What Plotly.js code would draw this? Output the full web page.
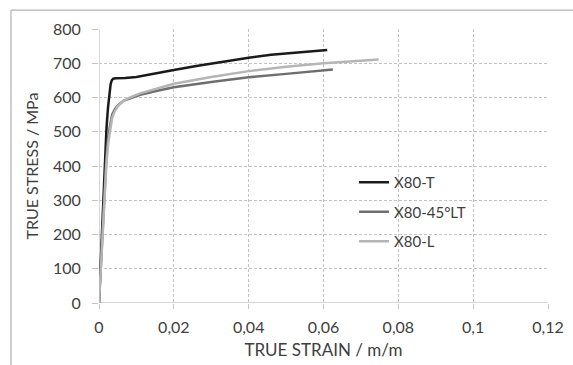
<!DOCTYPE html>
<html>
<head>
<meta charset="utf-8">
<script src="https://cdn.plot.ly/plotly-3.0.1.min.js"></script>
<style>
html,body{margin:0;padding:0;background:#fff;}
#chart{width:573px;height:365px;}
</style>
</head>
<body>
<div id="chart"></div>
<script>
// X80-T
const strainT = [0, 0.0004, 0.0008, 0.0012, 0.0016, 0.002, 0.0024, 0.0028, 0.0031, 0.0034, 0.0038, 0.0045, 0.0055, 0.007, 0.01, 0.0128, 0.016, 0.02, 0.026, 0.031, 0.04, 0.046, 0.052, 0.057, 0.061];
const stressT = [0, 100, 220, 330, 430, 510, 570, 615, 638, 650, 655, 656, 656, 657, 660, 666, 672, 680, 692, 701, 716, 725, 731, 735, 739];
// X80-45°LT
const strainLT = [0, 0.0005, 0.001, 0.0015, 0.002, 0.0025, 0.003, 0.0035, 0.0042, 0.005, 0.0065, 0.0083, 0.011, 0.015, 0.02, 0.03, 0.04, 0.05, 0.06, 0.0625];
const stressLT = [0, 110, 230, 340, 430, 490, 525, 550, 565, 576, 590, 598, 608, 618, 630, 645, 659, 669, 678, 682];
// X80-L
const strainL = [0, 0.0005, 0.001, 0.0015, 0.002, 0.0025, 0.003, 0.0035, 0.0042, 0.005, 0.0065, 0.0083, 0.011, 0.015, 0.02, 0.03, 0.04, 0.05, 0.06, 0.07, 0.0747];
const stressL = [0, 100, 210, 320, 410, 470, 510, 540, 560, 574, 590, 600, 612, 625, 640, 660, 677, 690, 700, 707, 711];

const seriesNames = ['X80-T', 'X80-45°LT', 'X80-L'];
const xTickVals = [0, 0.02, 0.04, 0.06, 0.08, 0.1, 0.12];
const xTickText = ['0', '0,02', '0,04', '0,06', '0,08', '0,1', '0,12'];
const yTickVals = [0, 100, 200, 300, 400, 500, 600, 700, 800];

const FONT = 'Lato, "Open Sans", sans-serif';
const TXT = '#404040';

const traces = [
  {x: strainT, y: stressT, name: seriesNames[0], mode: 'lines', legendgroup: 'a',
   line: {color: '#1a1a1a', width: 2.5}},
  {x: strainLT, y: stressLT, name: seriesNames[1], mode: 'lines', legendgroup: 'b',
   line: {color: '#6e6e6e', width: 2.5}},
  {x: strainL, y: stressL, name: seriesNames[2], mode: 'lines', legendgroup: 'c',
   line: {color: '#b5b5b5', width: 2.5}}
];

const layout = {
  width: 573, height: 365,
  margin: {l: 99, r: 25, t: 29, b: 62},
  paper_bgcolor: '#ffffff', plot_bgcolor: '#ffffff',
  font: {family: FONT, color: TXT, size: 14},
  showlegend: true,
  legend: {
    x: 0.568, y: 0.5, xanchor: 'left', yanchor: 'top',
    bgcolor: 'rgba(0,0,0,0)', borderwidth: 0,
    font: {family: FONT, size: 15, color: TXT},
    traceorder: 'grouped', tracegroupgap: 7
  },
  xaxis: {
    range: [0, 0.12], tickvals: xTickVals, ticktext: xTickText,
    showgrid: true, gridcolor: '#c4c4c4', griddash: '3px,2px', gridwidth: 1,
    zeroline: false, showline: false,
    ticks: 'outside', ticklen: 5, tickcolor: '#c4c4c4',
    ticklabelstandoff: 5,
    tickfont: {family: FONT, size: 16, color: TXT},
    title: {text: 'TRUE STRAIN / m/m', font: {family: FONT, size: 17, color: TXT}, standoff: 8},
    fixedrange: true
  },
  yaxis: {
    range: [0, 800], tickvals: yTickVals,
    showgrid: true, gridcolor: '#c4c4c4', griddash: '3px,2px', gridwidth: 1,
    zeroline: false, showline: false,
    ticks: 'outside', ticklen: 6, tickcolor: '#c4c4c4',
    ticklabelstandoff: 8,
    tickfont: {family: FONT, size: 16, color: TXT},
    title: {text: 'TRUE STRESS / MPa', font: {family: FONT, size: 16, color: TXT}, standoff: 10},
    fixedrange: true
  },
  shapes: [
    {type: 'line', xref: 'x', yref: 'y', x0: 0, x1: 0.12, y0: 0, y1: 0, line: {color: '#c8c8c8', width: 1.5}, layer: 'between'},
    {type: 'line', xref: 'x', yref: 'y', x0: 0, x1: 0, y0: 0, y1: 800, line: {color: '#c8c8c8', width: 1.5}, layer: 'between'},
    {type: 'rect', xref: 'paper', yref: 'paper', x0: 0.51, x1: 0.899, y0: 0.168, y1: 0.504,
     fillcolor: '#ffffff', line: {width: 0}, layer: 'between'},
    {type: 'rect', xref: 'paper', yref: 'paper', x0: -0.196, x1: 1.2, y0: -0.3, y1: 1.069,
     fillcolor: 'rgba(0,0,0,0)', line: {color: '#a0a0a0', width: 1}, layer: 'below'}
  ]
};

Plotly.newPlot('chart', traces, layout, {displayModeBar: false, staticPlot: true});
</script>
</body>
</html>
